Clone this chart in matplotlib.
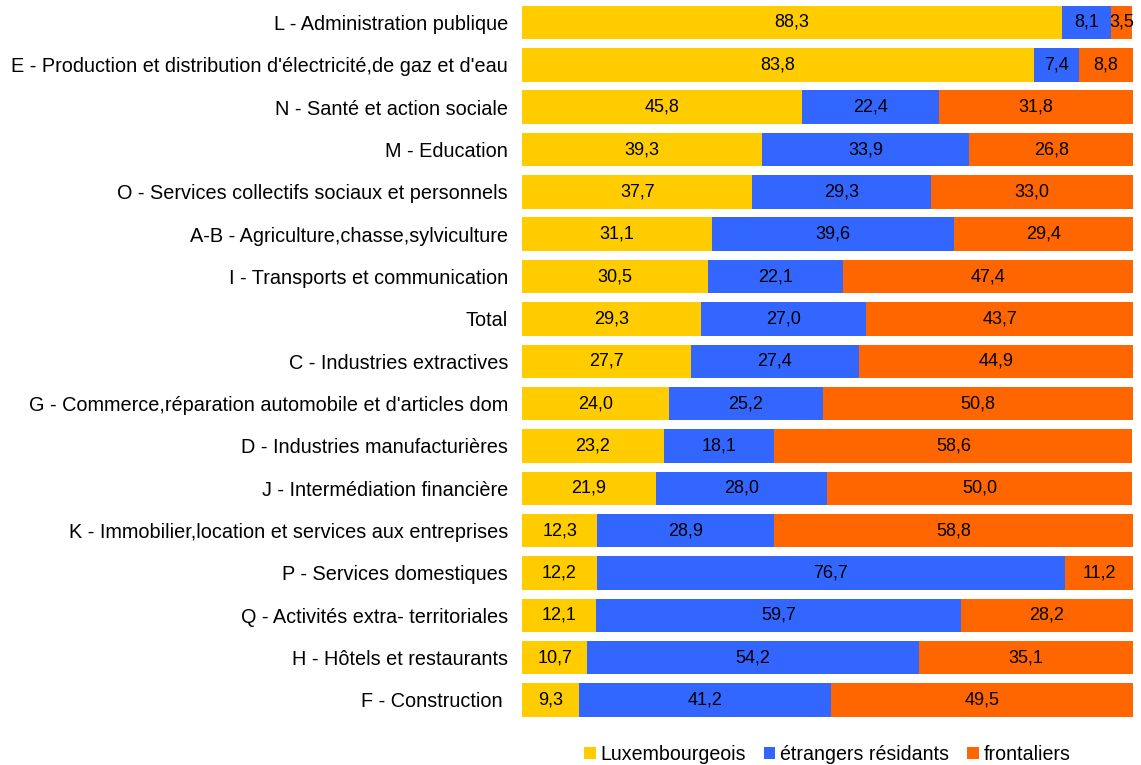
import matplotlib.pyplot as plt
import numpy as np

categories = [
    "L - Administration publique",
    "E - Production et distribution d'électricité,de gaz et d'eau",
    "N - Santé et action sociale",
    "M - Education",
    "O - Services collectifs sociaux et personnels",
    "A-B - Agriculture,chasse,sylviculture",
    "I - Transports et communication",
    "Total",
    "C - Industries extractives",
    "G - Commerce,réparation automobile et d'articles dom",
    "D - Industries manufacturières",
    "J - Intermédiation financière",
    "K - Immobilier,location et services aux entreprises",
    "P - Services domestiques",
    "Q - Activités extra- territoriales",
    "H - Hôtels et restaurants",
    "F - Construction ",
]
luxembourgeois = [88.3, 83.8, 45.8, 39.3, 37.7, 31.1, 30.5, 29.3, 27.7, 24.0, 23.2, 21.9, 12.3, 12.2, 12.1, 10.7, 9.3]
etrangers = [8.1, 7.4, 22.4, 33.9, 29.3, 39.6, 22.1, 27.0, 27.4, 25.2, 18.1, 28.0, 28.9, 76.7, 59.7, 54.2, 41.2]
frontaliers = [3.5, 8.8, 31.8, 26.8, 33.0, 29.4, 47.4, 43.7, 44.9, 50.8, 58.6, 50.0, 58.8, 11.2, 28.2, 35.1, 49.5]

series = [
    ("Luxembourgeois", luxembourgeois, "#FFCC00"),
    ("étrangers résidants", etrangers, "#3366FF"),
    ("frontaliers", frontaliers, "#FF6600"),
]

plt.rcParams['font.family'] = ['Liberation Sans', 'DejaVu Sans']

fig = plt.figure(figsize=(11.41, 7.65), dpi=100)
ax = fig.add_axes([0.4575, 0.0573, 0.993 - 0.4575, 0.941])

y = np.arange(len(categories))
left = np.zeros(len(categories))
for name, vals, color in series:
    vals = np.array(vals)
    ax.barh(y, vals, left=left, height=0.79, color=color, label=name)
    for yi, l, v in zip(y, left, vals):
        ax.text(l + v / 2, yi, f"{v:.1f}".replace('.', ','), ha='center', va='center',
                fontsize=13, color='black')
    left = left + vals

ax.set_xlim(0, 100)
ax.set_ylim(len(categories) - 0.5, -0.5)
ax.set_yticks(y)
ax.set_yticklabels(categories, fontsize=14.3)
ax.tick_params(axis='y', length=0, pad=10)
ax.set_xticks([])
for s in ax.spines.values():
    s.set_visible(False)

fig.legend(loc='center', bbox_to_anchor=(0.725, 0.014), ncol=3, frameon=False,
           fontsize=14.1, handlelength=0.6, handleheight=0.6, handletextpad=0.25,
           columnspacing=0.9)

fig.savefig("out.png", dpi=100)
